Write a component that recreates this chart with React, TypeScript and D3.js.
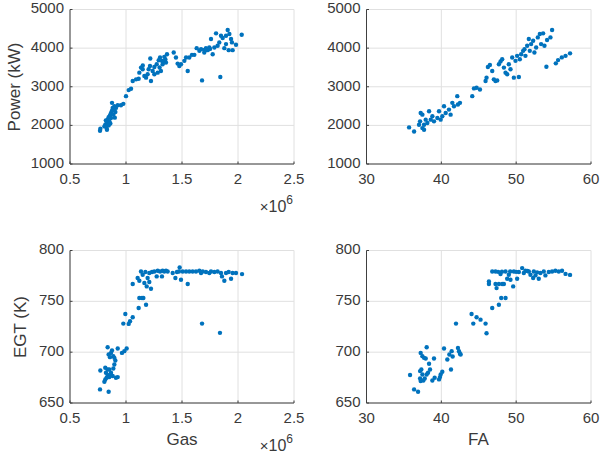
import React from "react";
import * as d3 from "d3";

// ---------- data ----------
// Panel 1: Gas vs Power
const p1Gas = [0.768,0.771,0.815,0.827,0.836,0.845,0.857,0.866,0.875,0.881,0.875,0.896,0.910,0.926,0.827,0.839,0.851,0.807,0.830,0.866,0.887,0.905,0.955,0.976,1.000,1.024,1.045,1.060,1.090,1.113,1.119,1.134,1.149,1.164,1.179,1.193,1.202,1.214,1.217,1.223,1.238,1.253,1.274,1.292,1.304,1.321,1.327,1.342,1.351,1.357,1.366,1.312,1.283,1.253,1.426,1.446,1.461,1.476,1.491,1.521,1.536,1.551,1.565,1.589,1.610,1.631,1.655,1.670,1.679,1.699,1.714,1.729,1.744,1.759,1.774,1.789,1.804,1.818,1.833,1.842,1.848,1.863,1.878,1.893,1.908,1.923,1.938,1.946,1.952,1.982,2.033,1.893,1.917,0.845,0.860,0.820,0.890,0.900,1.150,1.300,1.330,1.700,1.750];
const p1Power = [1861,1913,2017,2087,2148,2209,2261,2322,2383,2452,2583,2496,2452,2522,1930,2017,2104,1974,1887,2191,2278,2348,2522,2557,2757,2913,2948,3148,3191,3209,3365,3496,3452,3278,3235,3322,3452,3539,3730,3148,3409,3513,3583,3687,3757,3670,3583,3774,3713,3626,3843,3409,3365,3322,3887,3757,3600,3539,3583,3670,3757,3409,3757,3826,3826,4000,3930,3974,3165,3887,4000,3948,4017,4235,3843,4017,4383,4061,4148,3252,4322,4261,4000,4104,4470,4365,4235,4148,3948,4087,4348,4322,3948,2000,2050,2130,2400,2200,3550,3500,3650,3950,3980];

// Panel 2: FA vs Power
const p2FA = [35.69,36.36,37.02,37.24,37.47,37.16,37.47,37.69,37.91,37.69,38.13,38.36,38.58,38.80,39.02,39.47,39.69,39.91,40.13,40.36,40.58,41.02,41.24,41.47,41.69,42.13,42.22,42.49,44.13,44.36,44.71,45.16,45.91,46.04,46.22,46.49,46.80,47.02,47.24,47.47,47.69,47.91,48.13,48.36,48.58,48.80,49.02,49.24,49.47,49.69,49.91,50.13,50.36,50.49,50.67,50.93,51.11,51.24,51.47,51.69,51.82,52.00,52.27,52.44,52.67,52.89,53.16,53.33,53.60,53.78,54.04,54.13,54.58,54.80,55.30,55.60,56.10,56.60,57.20];
const p2Power = [1948,1843,2017,2322,2278,2104,1930,2017,2148,1887,2061,2365,2148,2235,2104,2191,2365,2148,2235,2496,2322,2409,2278,2583,2496,2757,2539,2583,2757,2957,2974,2930,3148,3235,3513,3565,3409,3191,3148,3165,3583,3652,3713,3496,3365,3322,3583,3452,3757,3235,3670,3800,3252,3713,3843,3930,3974,3800,4061,4235,3930,4104,4191,3887,4017,4278,4365,4104,4383,4061,3518,4209,4278,4470,3606,3690,3760,3800,3865];

// Panel 3: Gas vs EGT
const p3Gas = [0.768,0.845,0.771,0.815,0.836,0.851,0.821,0.836,0.807,0.815,0.827,0.851,0.866,0.881,0.910,0.926,0.866,0.887,0.896,0.836,0.845,0.866,0.875,0.887,0.896,0.905,0.857,0.926,0.964,0.985,1.006,0.976,0.994,1.024,1.036,1.060,1.060,1.113,1.119,1.143,1.155,1.179,1.104,1.119,1.134,1.149,1.173,1.164,1.185,1.208,1.223,1.193,1.208,1.232,1.253,1.274,1.283,1.304,1.327,1.342,1.357,1.321,1.372,1.417,1.441,1.455,1.479,1.473,1.491,1.506,1.536,1.551,1.565,1.595,1.625,1.655,1.670,1.685,1.679,1.714,1.744,1.759,1.789,1.818,1.839,1.848,1.857,1.878,1.893,1.917,1.938,1.952,1.982,2.036];
const p3EGT = [663.4,661.1,682.0,684.6,683.0,683.0,679.7,677.5,670.9,673.2,674.8,675.5,677.5,676.5,674.8,675.5,679.7,684.0,687.9,704.9,697.7,699.3,701.6,696.1,694.4,691.8,695.1,703.6,699.3,701.0,703.6,728.1,737.6,727.8,730.4,734.3,767.0,743.5,753.3,753.3,753.3,746.7,772.9,770.3,779.4,776.1,778.8,768.0,764.7,769.0,762.4,772.9,777.8,778.8,779.4,774.5,780.1,779.4,780.1,779.4,780.1,774.5,779.4,777.8,772.9,778.8,783.3,779.4,771.2,779.4,779.4,767.0,779.4,779.4,779.4,780.1,777.8,779.4,728.1,778.8,777.8,779.4,778.8,779.4,719.0,777.8,774.5,770.3,777.8,778.8,772.2,777.8,777.8,776.8];

// Panel 4: FA vs EGT
const p4FA = [35.82,36.36,36.89,37.24,37.47,37.69,38.04,37.91,37.16,37.33,37.47,37.16,37.24,37.60,37.78,38.04,38.36,38.49,38.22,39.02,38.80,39.11,39.69,39.91,40.13,39.82,40.36,40.80,41.07,41.29,41.38,41.51,41.96,42.22,42.36,42.49,42.58,44.04,44.27,44.71,45.24,45.91,46.04,46.80,47.69,48.00,48.58,46.36,46.36,46.80,47.24,47.38,47.24,47.69,48.13,48.36,47.91,48.58,48.80,49.02,49.24,49.60,49.69,50.13,50.36,50.80,51.02,51.24,51.69,51.91,52.27,52.36,52.58,53.02,53.24,53.69,53.91,54.36,54.80,55.24,55.69,56.13,56.60,57.20,47.60,48.10,49.20,50.00,51.50,52.80];
const p4EGT = [677.5,663.4,661.1,699.3,696.1,694.4,704.9,693.8,681.4,683.0,678.1,674.2,671.6,672.2,674.2,678.1,688.6,683.0,679.7,693.8,672.2,674.8,673.2,678.1,680.7,675.5,703.6,692.8,697.7,683.0,701.0,695.8,728.1,704.2,701.0,698.4,697.7,737.6,728.1,734.3,732.0,728.1,718.6,743.5,746.7,753.3,753.3,769.6,767.0,779.4,779.4,763.0,767.0,767.0,767.0,767.0,776.8,779.4,772.2,776.1,771.2,764.7,779.4,772.2,778.8,782.7,777.8,780.1,779.4,776.1,772.9,779.4,775.5,772.2,777.8,779.4,775.5,778.8,779.4,780.1,779.4,780.1,777.0,776.0,779.0,779.2,779.4,779.0,779.8,778.5];

const gasTicks = [0.5, 1, 1.5, 2, 2.5];
const faTicks = [30, 40, 50, 60];
const powerTicks = [1000, 2000, 3000, 4000, 5000];
const egtTicks = [650, 700, 750, 800];

const W = 602, H = 454;
const FONT = "'Liberation Sans', Arial, Helvetica, sans-serif";
const AX = "#404040";
const GRID = "#e0e0e0";
const DOT = "#0072BD";
const TXT = "#3a3a3a";

type PanelProps = {
  x0: number; x1: number; y0: number; y1: number;
  xs: number[]; ys: number[];
  xDomain: [number, number]; yDomain: [number, number];
  xTicks: number[]; yTicks: number[];
  xFmt: (v: number) => string;
};

function Panel(p: PanelProps) {
  const x = d3.scaleLinear().domain(p.xDomain).range([p.x0, p.x1]);
  const y = d3.scaleLinear().domain(p.yDomain).range([p.y0, p.y1]);
  return (
    <g>
      {p.xTicks.map((t) => (
        <line key={"gx" + t} x1={x(t)} x2={x(t)} y1={p.y0} y2={p.y1} stroke={GRID} strokeWidth={1} />
      ))}
      {p.yTicks.map((t) => (
        <line key={"gy" + t} x1={p.x0} x2={p.x1} y1={y(t)} y2={y(t)} stroke={GRID} strokeWidth={1} />
      ))}
      <line x1={p.x0} x2={p.x0} y1={p.y0} y2={p.y1} stroke={AX} strokeWidth={1} />
      <line x1={p.x0} x2={p.x1} y1={p.y0} y2={p.y0} stroke={AX} strokeWidth={1} />
      {p.xTicks.map((t) => (
        <g key={"tx" + t}>
          <line x1={x(t)} x2={x(t)} y1={p.y0} y2={p.y0 - 2.5} stroke={AX} strokeWidth={1} />
          <text x={x(t)} y={p.y0 + 16} fontSize={15} fill={TXT} textAnchor="middle" dominantBaseline="middle" fontFamily={FONT}>
            {p.xFmt(t)}
          </text>
        </g>
      ))}
      {p.yTicks.map((t) => (
        <g key={"ty" + t}>
          <line x1={p.x0} x2={p.x0 + 2.5} y1={y(t)} y2={y(t)} stroke={AX} strokeWidth={1} />
          <text x={p.x0 - 6} y={y(t)} fontSize={15} fill={TXT} textAnchor="end" dominantBaseline="middle" fontFamily={FONT}>
            {t}
          </text>
        </g>
      ))}
      {p.xs.map((v, i) => (
        <circle key={"c" + i} cx={x(v)} cy={y(p.ys[i])} r={2.2} fill={DOT} />
      ))}
    </g>
  );
}

export default function App() {
  const L = { x0: 70, x1: 294 };
  const R = { x0: 366.5, x1: 591 };
  const T = { y0: 164, y1: 9.5 };
  const B = { y0: 403, y1: 250.5 };
  const gasFmt = (v: number) => String(v);
  const faFmt = (v: number) => String(v);
  return (
    <svg width={W} height={H} style={{ position: "absolute", left: 0, top: 0, background: "#fff" }}>
      <rect x={0} y={0} width={W} height={H} fill="#fff" />
      <Panel {...L} {...T} xs={p1Gas} ys={p1Power} xDomain={[0.5, 2.5]} yDomain={[1000, 5000]} xTicks={gasTicks} yTicks={powerTicks} xFmt={gasFmt} />
      <Panel {...R} {...T} xs={p2FA} ys={p2Power} xDomain={[30, 60]} yDomain={[1000, 5000]} xTicks={faTicks} yTicks={powerTicks} xFmt={faFmt} />
      <Panel {...L} {...B} xs={p3Gas} ys={p3EGT} xDomain={[0.5, 2.5]} yDomain={[650, 800]} xTicks={gasTicks} yTicks={egtTicks} xFmt={gasFmt} />
      <Panel {...R} {...B} xs={p4FA} ys={p4EGT} xDomain={[30, 60]} yDomain={[650, 800]} xTicks={faTicks} yTicks={egtTicks} xFmt={faFmt} />

      <text transform="translate(16,87) rotate(-90)" fontSize={17} fill={TXT} textAnchor="middle" dominantBaseline="middle" fontFamily={FONT}>Power (kW)</text>
      <text transform="translate(22,327) rotate(-90)" fontSize={17} fill={TXT} textAnchor="middle" dominantBaseline="middle" fontFamily={FONT}>EGT (K)</text>
      <text x={182} y={441} fontSize={17} fill={TXT} textAnchor="middle" dominantBaseline="middle" fontFamily={FONT}>Gas</text>
      <text x={478.5} y={441} fontSize={17} fill={TXT} textAnchor="middle" dominantBaseline="middle" fontFamily={FONT}>FA</text>

      {[{ y: 208 }, { y: 447 }].map((m, i) => (
        <text key={"e" + i} x={293} y={m.y} fontSize={16} fill={TXT} textAnchor="end" dominantBaseline="middle" fontFamily={FONT}>
          <tspan fontSize={15}>×</tspan>10<tspan dy={-7} fontSize={12}>6</tspan>
        </text>
      ))}
    </svg>
  );
}
